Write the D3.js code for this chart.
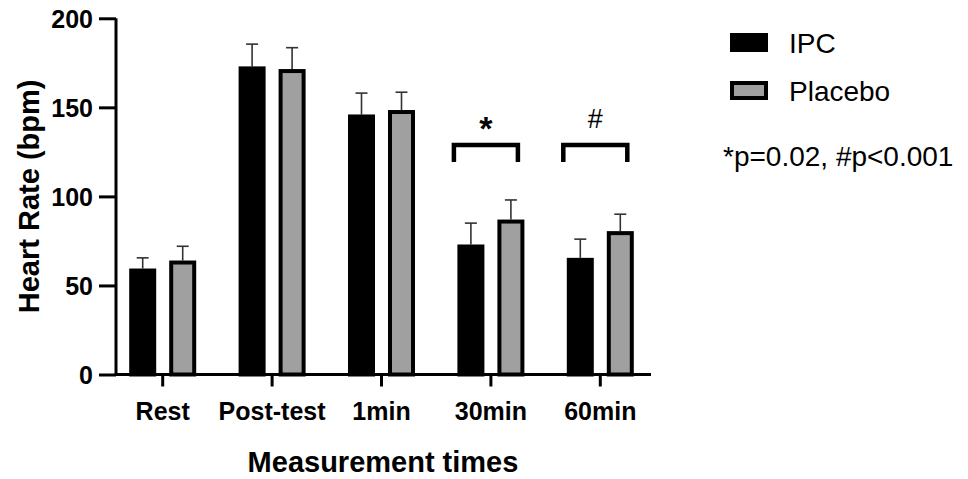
<!DOCTYPE html>
<html>
<head>
<meta charset="utf-8">
<script src="https://cdn.jsdelivr.net/npm/d3@7.9.0/dist/d3.min.js"></script>
<style>
  body { margin: 0; background: #fff; }
  svg { font-family: "Liberation Sans", Arial, sans-serif; }
</style>
</head>
<body>
<svg id="chart" width="968" height="479"></svg>
<script>
// chart data
const categories = ["Rest", "Post-test", "1min", "30min", "60min"];
const series = ["IPC", "Placebo"];
const ipcMean = [59.5, 173, 146, 73, 65.5];
const ipcSD = [6, 12.5, 12, 12, 10.5];
const placeboMean = [64, 171.5, 148.5, 87, 80.5];
const placeboSD = [8, 12, 10, 11, 9.5];
const yTicks = [0, 50, 100, 150, 200];
const sigMarks = [{ cat: "30min", label: "*" }, { cat: "60min", label: "#" }];

const svg = d3.select("#chart");
const font = "Liberation Sans, Arial, sans-serif";

// scales
const y = d3.scaleLinear().domain([0, 200]).range([374.5, 18.3]);
const x = d3.scaleBand().domain(categories).range([108, 655]);
const sub = d3.scaleOrdinal().domain(series).range([-20, 20]);
const fills = d3.scaleOrdinal().domain(series).range(["#000000", "#a0a0a0"]);
const barW = 27;

const rows = [];
categories.forEach((c, i) => {
  rows.push({ cat: c, s: "IPC", mean: ipcMean[i], sd: ipcSD[i] });
  rows.push({ cat: c, s: "Placebo", mean: placeboMean[i], sd: placeboSD[i] });
});
const cx = d => x(d.cat) + x.bandwidth() / 2 + sub(d.s);

// error bars (upward only)
const err = svg.append("g").attr("stroke", "#333").attr("stroke-width", 1.6);
err.selectAll("line.v").data(rows).join("line")
  .attr("x1", cx).attr("x2", cx)
  .attr("y1", d => y(d.mean)).attr("y2", d => y(d.mean + d.sd));
err.selectAll("line.c").data(rows).join("line")
  .attr("x1", d => cx(d) - 6).attr("x2", d => cx(d) + 6)
  .attr("y1", d => y(d.mean + d.sd)).attr("y2", d => y(d.mean + d.sd));

// bars
svg.append("g").selectAll("rect").data(rows).join("rect")
  .attr("x", d => cx(d) - barW / 2 + 2)
  .attr("width", barW - 4)
  .attr("y", d => y(d.mean) + 2)
  .attr("height", d => y(0) - y(d.mean) - 2)
  .attr("fill", d => fills(d.s))
  .attr("stroke", "#000")
  .attr("stroke-width", 4);

// y axis
const yAxis = svg.append("g")
  .attr("transform", "translate(116,0)")
  .call(d3.axisLeft(y).tickValues(yTicks).tickSize(17).tickPadding(6));
yAxis.select(".domain").attr("stroke-width", 3).attr("d", `M0,${y(200)}V${y(0) + 1.5}`);
yAxis.selectAll(".tick line").attr("stroke-width", 3);
yAxis.selectAll(".tick text")
  .attr("font-size", 25).attr("font-weight", "bold").attr("fill", "#000")
  .attr("font-family", font).attr("dy", "0.36em");

// x axis
const xAxis = svg.append("g")
  .attr("transform", `translate(0,${y(0)})`)
  .call(d3.axisBottom(x).tickSize(12).tickPadding(16));
xAxis.select(".domain").attr("stroke-width", 3).attr("d", "M114.5,0H651");
xAxis.selectAll(".tick line").attr("stroke-width", 3);
xAxis.selectAll(".tick text")
  .attr("font-size", 25).attr("font-weight", "bold").attr("fill", "#000")
  .attr("font-family", font);

// axis titles
svg.append("text")
  .attr("transform", `translate(39,${y(100)}) rotate(-90)`)
  .attr("text-anchor", "middle")
  .attr("font-size", 29).attr("font-weight", "bold")
  .text("Heart Rate (bpm)");
svg.append("text")
  .attr("x", 383).attr("y", 472)
  .attr("text-anchor", "middle")
  .attr("font-size", 29).attr("font-weight", "bold")
  .text("Measurement times");

// significance brackets
const sig = svg.append("g");
sigMarks.forEach(m => {
  const x0 = x(m.cat) + x.bandwidth() / 2 - 37;
  const x1 = x(m.cat) + x.bandwidth() / 2 + 27;
  sig.append("path")
    .attr("d", `M${x0},162V145H${x1}V162`)
    .attr("fill", "none").attr("stroke", "#000").attr("stroke-width", 4.5);
  sig.append("text")
    .attr("x", (x0 + x1) / 2).attr("y", m.label === "*" ? 140 : 128)
    .attr("text-anchor", "middle")
    .attr("font-size", m.label === "*" ? 34 : 27)
    .attr("font-weight", m.label === "*" ? "bold" : "normal")
    .text(m.label);
});

// legend
const legend = svg.append("g");
series.forEach((s, i) => {
  const ly = 33 + i * 48;
  legend.append("rect")
    .attr("x", 732).attr("y", ly + 2)
    .attr("width", 34).attr("height", 15)
    .attr("fill", fills(s)).attr("stroke", "#000").attr("stroke-width", 4);
  legend.append("text")
    .attr("x", 789).attr("y", ly + 20)
    .attr("font-size", 28)
    .text(s);
});
legend.append("text")
  .attr("x", 723).attr("y", 166)
  .attr("font-size", 28)
  .text("*p=0.02, #p<0.001");
</script>
</body>
</html>
